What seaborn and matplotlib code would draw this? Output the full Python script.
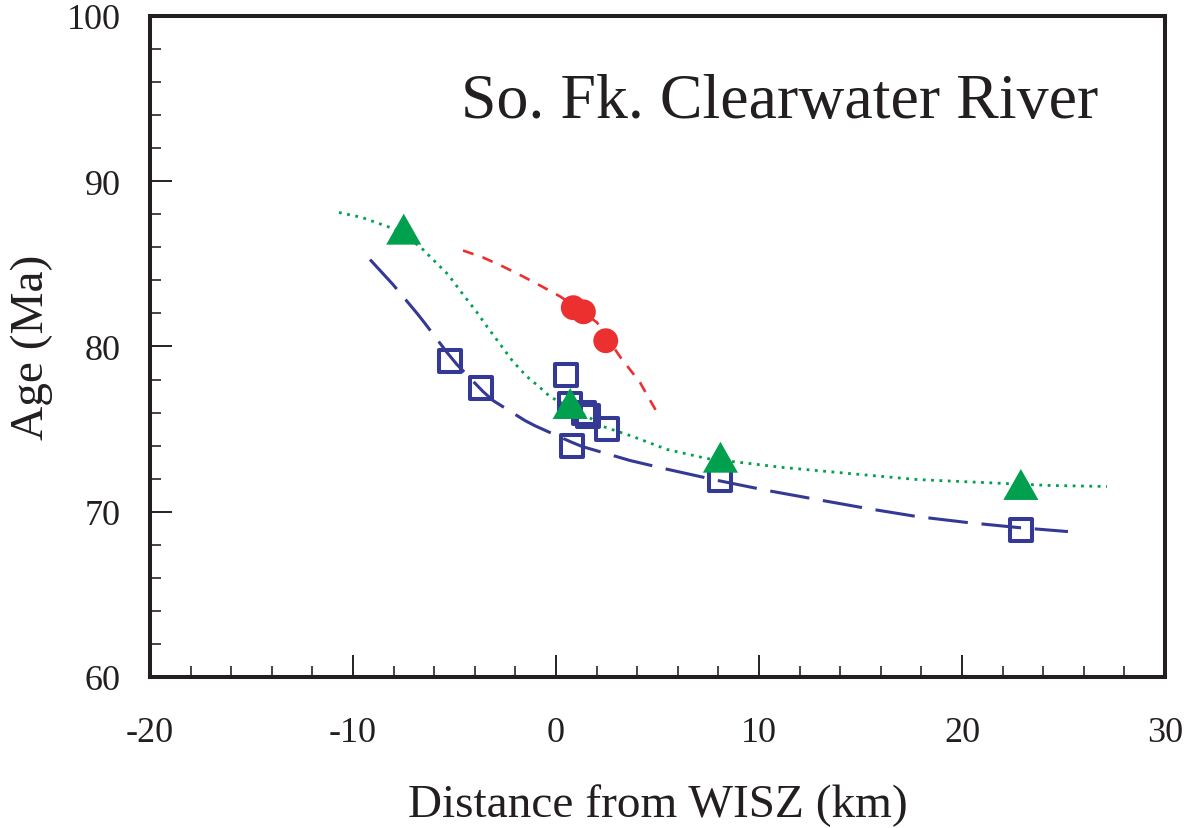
import numpy as np
import pandas as pd
import matplotlib
matplotlib.use("Agg")
import matplotlib.pyplot as plt
from matplotlib.path import Path
from matplotlib.ticker import MultipleLocator
import seaborn as sns

# ---- measured ages (Ma) vs distance from WISZ (km) ----
square_x = [-5.2, -3.7, 0.5, 0.7, 1.4, 1.6, 2.5, 0.8, 8.1, 22.9]
square_y = [79.1, 77.5, 78.3, 76.5, 76.0, 75.8, 75.0, 74.0, 71.9, 68.9]

triangle_x = [-7.5, 0.7, 8.1, 22.9]
triangle_y = [87.1, 76.55, 73.3, 71.65]

circle_x = [0.85, 1.35, 2.45]
circle_y = [82.35, 82.1, 80.35]

# ---- trend curves ----
blue_curve_x = [-9.16, -8.03, -6.80, -6.45, -5.37, -4.88, -3.60, -3.10,
                -1.53, -1.03, 0.69, 1.28, 3.15, 3.65, 5.52, 7.98, 10.39,
                12.86, 15.32, 17.78, 20.25, 22.71, 25.22]
blue_curve_y = [85.26, 83.75, 81.94, 81.39, 79.64, 78.91, 77.28, 76.73,
                75.52, 75.20, 74.25, 73.95, 73.28, 73.10, 72.56, 71.89, 71.29,
                70.74, 70.20, 69.71, 69.35, 69.05, 68.80]

green_curve_x = [-10.69, -9.56, -8.03, -6.70, -5.96, -5.32, -4.58, -3.89, -3.40,
                 -2.12, -1.43, -0.79, -0.30, 0.69, 1.82, 2.32, 3.79, 5.47, 7.44,
                 11.18, 14.48, 17.78, 21.03, 24.33, 27.14]
green_curve_y = [88.11, 87.81, 87.14, 86.05, 85.14, 84.36, 83.15, 82.06, 81.21,
                 79.09, 78.18, 77.52, 76.97, 76.31, 75.58, 75.16, 74.55, 73.77,
                 73.22, 72.68, 72.31, 71.95, 71.77, 71.59, 71.53]

red_curve_x = [-4.58, -3.60, -2.61, -1.63, -0.69, 0.20, 1.18, 2.02, 3.15, 4.14, 5.12]
red_curve_y = [85.81, 85.39, 84.84, 84.24, 83.63, 83.03, 82.24, 81.45, 79.39, 77.82, 75.70]

x_ticks = [-20, -10, 0, 10, 20, 30]
y_ticks = [60, 70, 80, 90, 100]

BLUE = "#343995"
GREEN = "#00a04f"
RED = "#ec2f2f"
INK = "#231f20"

sns.set_style("ticks")
plt.rcParams["font.family"] = ["Liberation Serif", "DejaVu Serif"]
plt.rcParams["axes.unicode_minus"] = False

fig = plt.figure(figsize=(11.89, 8.29), dpi=100)
ax = fig.add_axes([150 / 1189, 1 - 678 / 829, 1015 / 1189, 661 / 829])

df_blue = pd.DataFrame({"x": blue_curve_x, "y": blue_curve_y})
df_green = pd.DataFrame({"x": green_curve_x, "y": green_curve_y})
df_red = pd.DataFrame({"x": red_curve_x, "y": red_curve_y})

sns.lineplot(data=df_blue, x="x", y="y", sort=False, ax=ax, color=BLUE,
             lw=2.2, linestyle=(0, (13, 4.5)), zorder=2)
sns.lineplot(data=df_green, x="x", y="y", sort=False, ax=ax, color=GREEN,
             lw=2.0, linestyle=(0, (1, 2.0)), zorder=2)
sns.lineplot(data=df_red, x="x", y="y", sort=False, ax=ax, color=RED,
             lw=1.9, linestyle=(0, (4.2, 3.6)), zorder=2)

df_sq = pd.DataFrame({"x": square_x, "y": square_y})
df_tri = pd.DataFrame({"x": triangle_x, "y": triangle_y})
df_cir = pd.DataFrame({"x": circle_x, "y": circle_y})

sns.scatterplot(data=df_sq, x="x", y="y", ax=ax, marker="s", s=250,
                facecolor="none", edgecolor=BLUE, linewidth=2.9, zorder=3)
sns.scatterplot(data=df_cir, x="x", y="y", ax=ax, marker="o", s=320,
                color=RED, edgecolor="none", linewidth=0, zorder=4)
tri = Path([(-1, -0.88), (1, -0.88), (0, 0.88), (-1, -0.88)],
           [Path.MOVETO, Path.LINETO, Path.LINETO, Path.CLOSEPOLY])
sns.scatterplot(data=df_tri, x="x", y="y", ax=ax, marker=tri, s=640,
                color=GREEN, edgecolor="none", linewidth=0, zorder=5)

ax.set_xlim(-20, 30)
ax.set_ylim(60, 100)
ax.set_xticks(x_ticks)
ax.set_yticks(y_ticks)
ax.xaxis.set_minor_locator(MultipleLocator(2))
ax.yaxis.set_minor_locator(MultipleLocator(2))
ax.tick_params(axis="both", which="major", direction="in", length=16,
               width=1.4, color="#222222", labelsize=26, labelcolor=INK)
ax.tick_params(axis="both", which="minor", direction="in", length=8,
               width=1.4, color="#444444")
ax.tick_params(axis="x", which="major", pad=28)
ax.tick_params(axis="y", which="major", pad=21)
ax.tick_params(top=False, right=False, which="both")
for side in ["left", "bottom", "right", "top"]:
    ax.spines[side].set_linewidth(2.9)
    ax.spines[side].set_color(INK)
    ax.spines[side].set_visible(True)

ax.set_xlabel("Distance from WISZ (km)", fontsize=34, labelpad=25, color=INK)
ax.set_ylabel("Age (Ma)", fontsize=34, labelpad=10, color=INK)

ax.text(0.934, 0.847, "So. Fk. Clearwater River", transform=ax.transAxes,
        ha="right", va="baseline", fontsize=46, color=INK)

fig.savefig("out.png", dpi=100)
